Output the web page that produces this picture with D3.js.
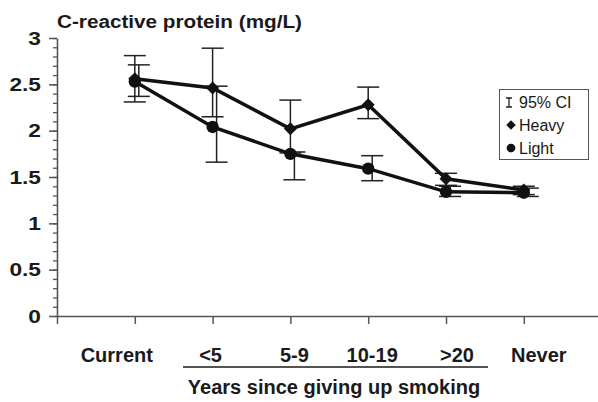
<!DOCTYPE html>
<html>
<head>
<meta charset="utf-8">
<script src="https://cdn.jsdelivr.net/npm/d3@7"></script>
<style>
  body { margin: 0; background: #fff; }
  svg { display: block; font-family: "Liberation Sans", Arial, sans-serif; }
</style>
</head>
<body>
<div id="viz"></div>
<script>
// values
var categories = ["Current", "<5", "5-9", "10-19", ">20", "Never"];
var heavy   = [2.56, 2.46, 2.02, 2.28, 1.48, 1.36];
var heavyLo = [2.31, 2.15, 1.76, 2.13, 1.41, 1.31];
var heavyHi = [2.81, 2.89, 2.33, 2.47, 1.54, 1.40];
var light   = [2.53, 2.04, 1.75, 1.59, 1.34, 1.33];
var lightLo = [2.37, 1.66, 1.47, 1.46, 1.29, 1.29];
var lightHi = [2.71, 2.48, 1.77, 1.73, 1.40, 1.38];
var yTicks = [0, 0.5, 1, 1.5, 2, 2.5, 3];
var yTickLabels = ["0", "0.5", "1", "1.5", "2", "2.5", "3"];

var svg = d3.select("#viz")
    .append("svg")
    .attr("width", 598)
    .attr("height", 402);

var y = d3.scaleLinear().domain([0, 3]).range([316, 38]);
// slot 0 is the origin, categories sit on slots 1..6
var x = d3.scaleLinear().domain([0, 7]).range([57, 57 + 7 * 77.8]);
var labelShift = [-18, -2, 4, 4, 11, 15]; // labels are not centred on the ticks in the original

var axisColor = "#555";
var ink = "#1a1a1a";

// minor y ticks
svg.append("g")
    .attr("transform", "translate(57,0)")
    .call(d3.axisLeft(y).tickValues(d3.range(0, 3.001, 0.1)).tickSize(4).tickSizeOuter(0).tickFormat(""))
    .call(function (g) {
        g.select(".domain").remove();
        g.selectAll("line").attr("stroke", axisColor).attr("stroke-width", 1.3);
    });

// major y ticks
var yAxis = svg.append("g")
    .attr("transform", "translate(57,0)")
    .call(d3.axisLeft(y).tickValues(yTicks).tickSize(8).tickSizeOuter(0)
        .tickFormat(function (d, i) { return yTickLabels[i]; }));
yAxis.select(".domain").attr("stroke", axisColor).attr("stroke-width", 1.6);
yAxis.selectAll("line").attr("stroke", axisColor).attr("stroke-width", 1.5);
yAxis.selectAll("text")
    .attr("x", -16 / 1.3)
    .attr("dy", "0.36em")
    .attr("transform", "scale(1.3,1)")
    .attr("font-size", 17.5)
    .attr("font-weight", "bold")
    .attr("fill", ink)
    .attr("font-family", "'Liberation Sans', Arial, sans-serif");

// x axis
var xAxis = svg.append("g")
    .attr("transform", "translate(0," + y(0) + ")")
    .call(d3.axisBottom(x).tickValues(d3.range(0, 7)).tickSize(8).tickSizeOuter(0).tickFormat(""));
xAxis.select(".domain").attr("stroke", axisColor).attr("stroke-width", 1.6);
xAxis.selectAll("line").attr("stroke", axisColor).attr("stroke-width", 1.5);

// category labels
svg.selectAll(".cat")
    .data(categories)
    .enter()
    .append("text")
    .attr("class", "cat")
    .attr("x", function (d, i) { return x(i + 1) + labelShift[i]; })
    .attr("y", 362)
    .attr("text-anchor", "middle")
    .attr("font-size", 20)
    .attr("font-weight", "bold")
    .attr("fill", ink)
    .text(function (d) { return d; });

// bracket under the ex-smoker groups
svg.append("line")
    .attr("x1", 183).attr("x2", 488)
    .attr("y1", 367).attr("y2", 367)
    .attr("stroke", ink).attr("stroke-width", 1.5);

svg.append("text")
    .attr("x", 334)
    .attr("y", 394)
    .attr("text-anchor", "middle")
    .attr("font-size", 20)
    .attr("font-weight", "bold")
    .attr("fill", ink)
    .text("Years since giving up smoking");

// title
svg.append("text")
    .attr("x", 57)
    .attr("y", 28)
    .attr("font-size", 18)
    .attr("font-weight", "bold")
    .attr("fill", ink)
    .attr("textLength", 245)
    .attr("lengthAdjust", "spacingAndGlyphs")
    .text("C-reactive protein (mg/L)");

var diamond = d3.symbol().type(d3.symbolSquare).size(85);
var circle = d3.symbol().type(d3.symbolCircle).size(120);

var series = [
    { name: "Heavy", values: heavy, lo: heavyLo, hi: heavyHi, dx: 0, marker: diamond, rot: 45 },
    { name: "Light", values: light, lo: lightLo, hi: lightHi, dx: 4, marker: circle, rot: 0 }
];

// error bars
series.forEach(function (s) {
    var g = svg.append("g").attr("stroke", "#222").attr("stroke-width", 1.5);
    categories.forEach(function (c, i) {
        var cx = x(i + 1) + s.dx;
        g.append("line").attr("x1", cx).attr("x2", cx).attr("y1", y(s.lo[i])).attr("y2", y(s.hi[i]));
        g.append("line").attr("x1", cx - 11).attr("x2", cx + 11).attr("y1", y(s.lo[i])).attr("y2", y(s.lo[i]));
        g.append("line").attr("x1", cx - 11).attr("x2", cx + 11).attr("y1", y(s.hi[i])).attr("y2", y(s.hi[i]));
    });
});

var line = d3.line()
    .x(function (d, i) { return x(i + 1); })
    .y(function (d) { return y(d); });

series.forEach(function (s) {
    svg.append("path")
        .datum(s.values)
        .attr("d", line)
        .attr("fill", "none")
        .attr("stroke", "#111")
        .attr("stroke-width", 3.5);
    svg.selectAll(".pt-" + s.name)
        .data(s.values)
        .enter()
        .append("path")
        .attr("d", s.marker)
        .attr("transform", function (d, i) {
            return "translate(" + x(i + 1) + "," + y(d) + ") rotate(" + s.rot + ")";
        })
        .attr("fill", "#111");
});

// legend
var lg = svg.append("g");
lg.append("rect")
    .attr("x", 499.5).attr("y", 89.5)
    .attr("width", 89).attr("height", 70)
    .attr("fill", "#fff")
    .attr("stroke", "#555")
    .attr("stroke-width", 1);
lg.append("path")
    .attr("d", "M506,98H512M509,98V107M506,107H512")
    .attr("stroke", "#222").attr("stroke-width", 1.3).attr("fill", "none");
lg.append("path")
    .attr("d", d3.symbol().type(d3.symbolSquare).size(45))
    .attr("transform", "translate(511,125) rotate(45)")
    .attr("fill", "#111");
lg.append("path")
    .attr("d", d3.symbol().type(d3.symbolCircle).size(60))
    .attr("transform", "translate(511,148)")
    .attr("fill", "#111");
var legendText = ["95% CI", "Heavy", "Light"];
lg.selectAll(".lt")
    .data(legendText)
    .enter()
    .append("text")
    .attr("x", function (d, i) { return i === 0 ? 519 : 519; })
    .attr("y", function (d, i) { return 108 + i * 23; })
    .attr("font-size", 16)
    .attr("fill", ink)
    .text(function (d) { return d; });
</script>
</body>
</html>
